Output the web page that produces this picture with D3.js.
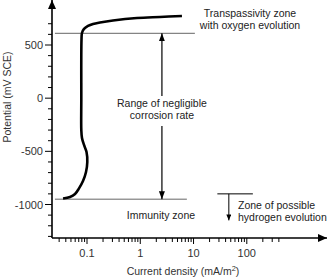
<!DOCTYPE html>
<html>
<head>
<meta charset="utf-8">
<script src="https://cdn.jsdelivr.net/npm/d3@7"></script>
<style>
  body { margin: 0; background: #fff; }
  svg { display: block; font-family: "Liberation Sans", Arial, sans-serif; }
</style>
</head>
<body>
<svg width="330" height="277"></svg>
<script>
// polarization curve (current mA/m2, potential mV)
const current = [0.0355, 0.048, 0.0596, 0.0708, 0.0841, 0.0958, 0.1013, 0.098, 0.0879, 0.0805, 0.0782, 0.0782, 0.0788, 0.0805, 0.0879, 0.1044, 0.1297, 0.1754, 0.3075, 0.867, 2.34, 6.06];
const potential = [-943, -929, -901, -848, -779, -694, -600, -506, -440, -374, -299, -17, 547, 613, 651, 679, 698, 712, 731, 754, 764, 773];

const yMajor = [-1000, -500, 0, 500];
const xMajor = [0.1, 1, 10, 100];
const xLabels = ['0.1', '1', '10', '100'];

// zone limits (mV) and where the guide lines run (mA/m2)
const passiveTop = 610;
const passiveBottom = -950;
const hydrogenLevel = -900;
const topLineEnd = 10.6;
const bottomLineEnd = 7.5;
const lineStart = 0.025;
const rangeArrowAt = 2.55;
const hydrogenSpan = [28, 130];
const hydrogenArrowAt = 46;
const hydrogenArrowTo = -1150;

const svg = d3.select('svg');

const x = d3.scaleLog().domain([0.1, 100]).range([87, 246.8]);
const y = d3.scaleLinear().domain([-1000, 500]).range([204.5, 45]);

const x0 = 52, yBase = 238;

const defs = svg.append('defs');
function marker(id, w, h) {
  defs.append('marker')
    .attr('id', id)
    .attr('viewBox', `0 0 ${h} ${w}`)
    .attr('refX', h).attr('refY', w / 2)
    .attr('markerWidth', h).attr('markerHeight', w)
    .attr('markerUnits', 'userSpaceOnUse')
    .attr('orient', 'auto-start-reverse')
    .append('path')
    .attr('d', `M0,0L${h},${w / 2}L0,${w}Z`)
    .attr('fill', '#000');
}
marker('axhead', 8, 9);
marker('head', 6, 8);
marker('small', 5, 6);

// guide lines
svg.append('line')
  .attr('x1', x(lineStart)).attr('x2', x(topLineEnd))
  .attr('y1', y(passiveTop)).attr('y2', y(passiveTop))
  .attr('stroke', '#666').attr('stroke-width', 1);
svg.append('line')
  .attr('x1', x(lineStart)).attr('x2', x(bottomLineEnd))
  .attr('y1', y(passiveBottom)).attr('y2', y(passiveBottom))
  .attr('stroke', '#666').attr('stroke-width', 1);

// axes
svg.append('line')
  .attr('x1', x0).attr('y1', yBase).attr('x2', x0).attr('y2', 0)
  .attr('stroke', '#000').attr('stroke-width', 1.6)
  .attr('marker-end', 'url(#axhead)');
svg.append('line')
  .attr('x1', x0).attr('y1', yBase).attr('x2', 327).attr('y2', yBase)
  .attr('stroke', '#000').attr('stroke-width', 1.6)
  .attr('marker-end', 'url(#axhead)');

const yTicks = d3.range(-1300, 701, 100);
svg.selectAll('.ytick')
  .data(yTicks)
  .enter()
  .append('line')
  .attr('x1', d => yMajor.includes(d) ? x0 - 7 : x0 - 4)
  .attr('x2', x0)
  .attr('y1', d => y(d)).attr('y2', d => y(d))
  .attr('stroke', '#000').attr('stroke-width', 1);

svg.selectAll('.ylab')
  .data(yMajor)
  .enter()
  .append('text')
  .attr('x', 43)
  .attr('y', d => y(d) + 4)
  .attr('text-anchor', 'end')
  .attr('font-size', 11)
  .attr('fill', '#333')
  .text(d => d);

const xTicks = [];
[0.01, 0.1, 1, 10, 100].forEach(dec => {
  for (let k = 1; k <= 9; k++) {
    const v = dec * k;
    if (v >= 0.03 && v <= 400) xTicks.push(v);
  }
});
svg.selectAll('.xtick')
  .data(xTicks)
  .enter()
  .append('line')
  .attr('x1', d => x(d)).attr('x2', d => x(d))
  .attr('y1', yBase)
  .attr('y2', d => xMajor.some(m => Math.abs(m - d) < 1e-9) ? yBase + 6 : yBase + 4)
  .attr('stroke', '#000').attr('stroke-width', 1);

svg.selectAll('.xlab')
  .data(xMajor)
  .enter()
  .append('text')
  .attr('x', d => x(d))
  .attr('y', 257)
  .attr('text-anchor', 'middle')
  .attr('font-size', 11)
  .attr('fill', '#333')
  .text((d, i) => xLabels[i]);

const xTitle = svg.append('text')
  .attr('x', 183).attr('y', 275)
  .attr('text-anchor', 'middle')
  .attr('font-size', 10.5)
  .attr('fill', '#333')
  .text('Current density (mA/m');
xTitle.append('tspan').attr('dy', -4).attr('font-size', 7.5).text('2');
xTitle.append('tspan').attr('dy', 4).text(')');

svg.append('text')
  .attr('transform', 'translate(11,97) rotate(-90)')
  .attr('text-anchor', 'middle')
  .attr('font-size', 10.5)
  .attr('fill', '#333')
  .text('Potential (mV SCE)');

// curve
const pts = current.map((c, i) => [c, potential[i]]);
svg.append('path')
  .datum(pts)
  .attr('d', d3.line().x(d => x(d[0])).y(d => y(d[1])).curve(d3.curveCatmullRom))
  .attr('fill', 'none')
  .attr('stroke', '#000')
  .attr('stroke-width', 2.6)
  .attr('stroke-linejoin', 'round');

// range arrow, broken around its label
const ax = x(rangeArrowAt);
svg.append('line')
  .attr('x1', ax).attr('x2', ax)
  .attr('y1', 96).attr('y2', y(passiveTop))
  .attr('stroke', '#000').attr('stroke-width', 1.2)
  .attr('marker-end', 'url(#head)');
svg.append('line')
  .attr('x1', ax).attr('x2', ax)
  .attr('y1', 126).attr('y2', y(passiveBottom))
  .attr('stroke', '#000').attr('stroke-width', 1.2)
  .attr('marker-end', 'url(#head)');

function label(lines, xx, yy, anchor) {
  const t = svg.append('text')
    .attr('font-size', 10.5)
    .attr('fill', '#222')
    .attr('text-anchor', anchor);
  lines.forEach((s, i) => {
    t.append('tspan').attr('x', xx).attr('y', yy + i * 12).text(s);
  });
}
label(['Range of negligible', 'corrosion rate'], ax, 107, 'middle');
label(['Transpassivity zone', 'with oxygen evolution'], 250, 17, 'middle');
label(['Immunity zone'], 161, 219, 'middle');
label(['Zone of possible', 'hydrogen evolution'], 238, 209, 'start');

// hydrogen marker
svg.append('line')
  .attr('x1', x(hydrogenSpan[0])).attr('x2', x(hydrogenSpan[1]))
  .attr('y1', y(hydrogenLevel)).attr('y2', y(hydrogenLevel))
  .attr('stroke', '#000').attr('stroke-width', 1);
svg.append('line')
  .attr('x1', x(hydrogenArrowAt)).attr('x2', x(hydrogenArrowAt))
  .attr('y1', y(hydrogenLevel)).attr('y2', y(hydrogenArrowTo))
  .attr('stroke', '#000').attr('stroke-width', 1)
  .attr('marker-end', 'url(#small)');
</script>
</body>
</html>
